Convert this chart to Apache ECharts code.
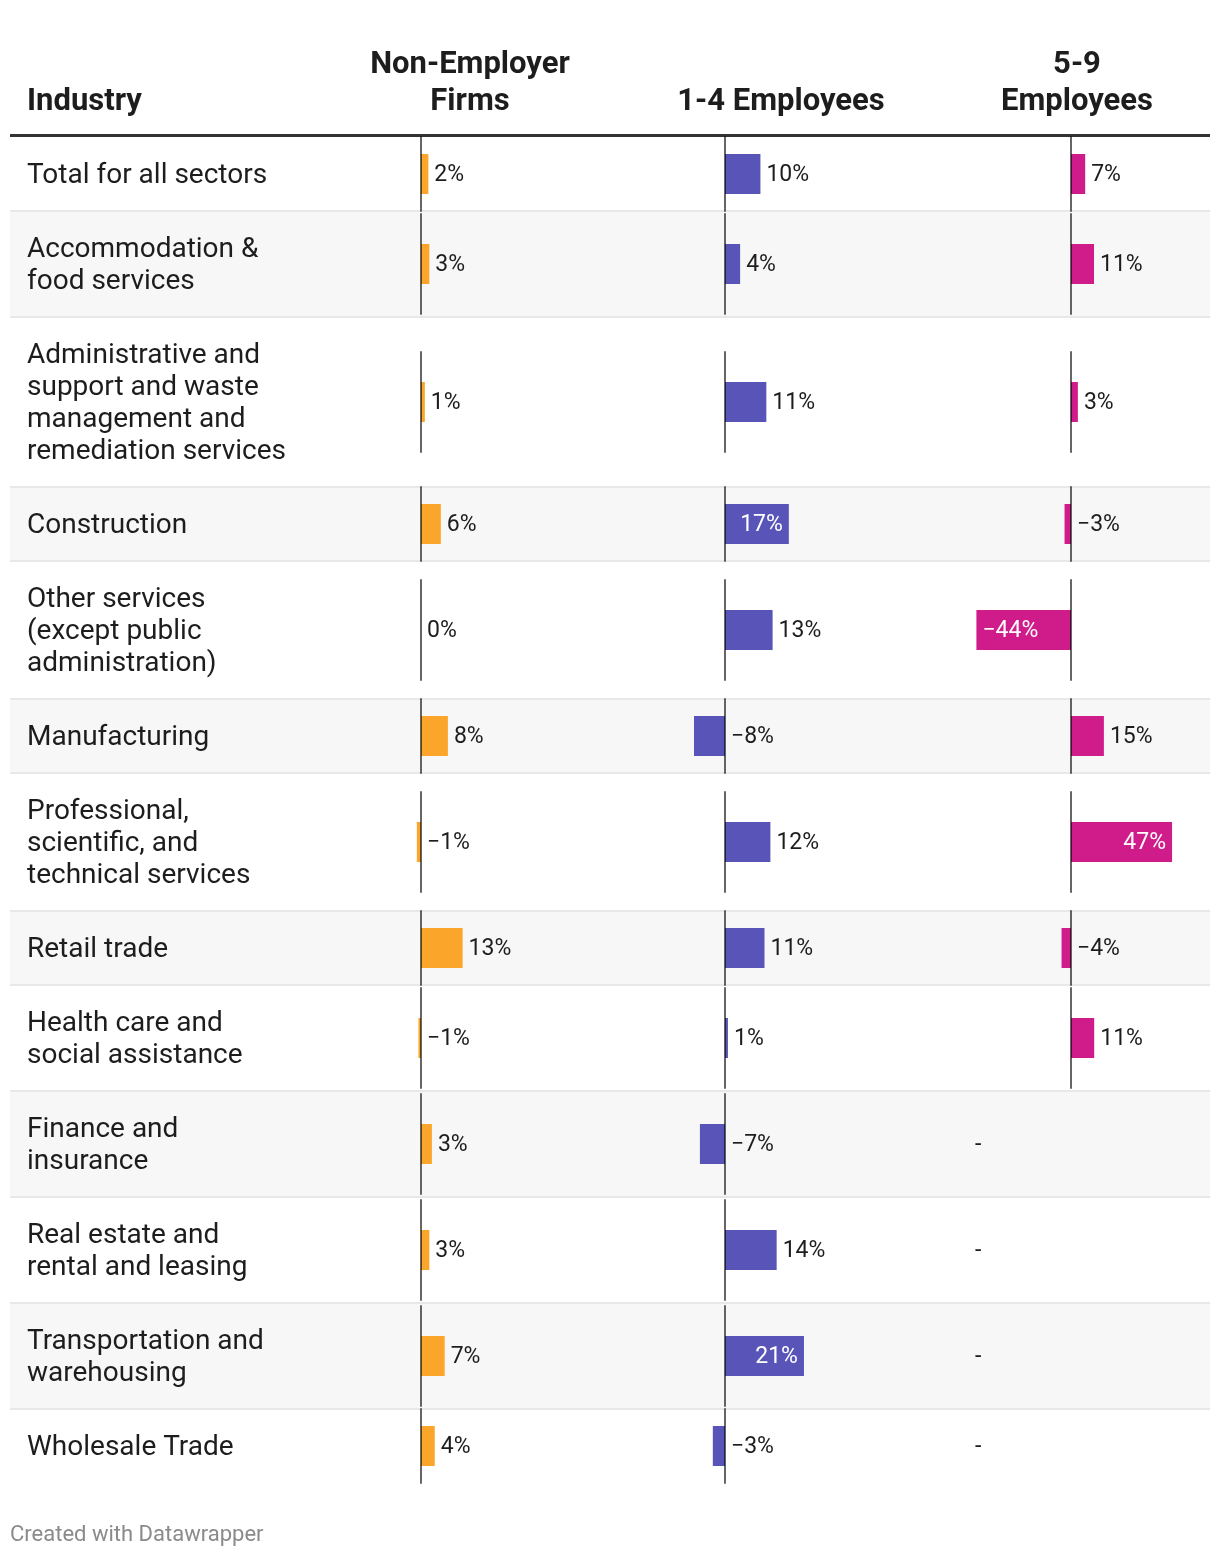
<!DOCTYPE html>
<html><head><meta charset="utf-8">
<script src="https://cdn.jsdelivr.net/npm/echarts@6/dist/echarts.min.js"></script>
<style>html,body{margin:0;padding:0;background:#fff}#c{width:1220px;height:1558px}</style>
</head><body><div id="c"></div>
<script>
// ---- data ----
const categories = [
  "Total for all sectors",
  "Accommodation &\nfood services",
  "Administrative and\nsupport and waste\nmanagement and\nremediation services",
  "Construction",
  "Other services\n(except public\nadministration)",
  "Manufacturing",
  "Professional,\nscientific, and\ntechnical services",
  "Retail trade",
  "Health care and\nsocial assistance",
  "Finance and\ninsurance",
  "Real estate and\nrental and leasing",
  "Transportation and\nwarehousing",
  "Wholesale Trade"
];
const nonEmployerFirms = [2.3, 2.6, 1.2, 6.2, 0, 8.4, -1.3, 13.0, -0.8, 3.4, 2.6, 7.4, 4.3];
const employees1to4   = [9.6, 4.1, 11.2, 17.3, 12.9, -8.4, 12.3, 10.7, 0.8, -6.8, 14.0, 21.4, -3.3];
const employees5to9   = [6.6, 10.7, 3.2, -3.0, -44.0, 15.3, 47.0, -4.4, 10.8, null, null, null, null];
const headerIndustry = "Industry";
const columnTitles = ["Non-Employer\nFirms", "1-4 Employees", "5-9\nEmployees"];
const footerText = "Created with Datawrapper";

// ---- layout / style ----
const FONT = "Roboto, 'Noto Sans', sans-serif";
const BODY_SIZE = 28, LABEL_SIZE = 23, HEAD_SIZE = 31;
const TEXT = '#1d1d1d';
const colors = ['#fba52a', '#5955b8', '#d01c8b'];
const zeroX = [421, 725, 1071];
const pxPerUnit = [3.2, 3.69, 2.15];
const axisRange = [[-5, 20], [-10, 30], [-50, 50]];
const headCenters = [470, 781, 1077];
const columns = [nonEmployerFirms, employees1to4, employees5to9];
const TABLE_TOP = 137;

const fmt = v => { const r = Math.round(v); return (r < 0 ? '\u2212' + Math.abs(r) : r) + '%'; };

const grids = [], xAxes = [], yAxes = [], series = [], graphics = [];

// header
graphics.push({type:'rect', shape:{x:10, y:134, width:1200, height:3}, style:{fill:'#333'}, z:1});
graphics.push({type:'text', style:{text:headerIndustry, x:27, y:102, textVerticalAlign:'middle', font:'bold '+HEAD_SIZE+'px '+FONT, fill:TEXT}});
columnTitles.forEach((t, c) => {
  const lines = t.split('\n');
  lines.forEach((ln, j) => {
    const y = 102 - (lines.length - 1 - j) * 37;
    graphics.push({type:'text', style:{text:ln, x:headCenters[c], y:y, textAlign:'center', textVerticalAlign:'middle', font:'bold '+HEAD_SIZE+'px '+FONT, fill:TEXT}});
  });
});

let y = TABLE_TOP;
categories.forEach((cat, i) => {
  const nLines = cat.split('\n').length;
  const h = 42 + 32 * nLines;
  const cy = y + h / 2;
  if (i % 2 === 1) graphics.push({type:'rect', shape:{x:10, y:y, width:1200, height:h}, style:{fill:'#f7f7f7'}, z:-2});
  if (i > 0) graphics.push({type:'rect', shape:{x:10, y:y - 1, width:1200, height:2}, style:{fill:'#e8e8e8'}, z:-1});
  graphics.push({type:'text', style:{text:cat, x:27, y:cy + 2, textVerticalAlign:'middle', font:BODY_SIZE+'px '+FONT, lineHeight:32, fill:TEXT}});
  const lineH = Math.min(h, 100);
  columns.forEach((arr, c) => {
    const v = arr[i];
    if (v === null || v === undefined) {
      graphics.push({type:'text', style:{text:'-', x:975, y:cy + 1, textVerticalAlign:'middle', font:LABEL_SIZE+'px '+FONT, fill:TEXT}});
      return;
    }
    const k = grids.length;
    const [mn, mx] = axisRange[c];
    grids.push({left: zeroX[c] + mn * pxPerUnit[c], width: (mx - mn) * pxPerUnit[c], top: cy - lineH / 2, height: lineH});
    xAxes.push({type:'value', gridIndex:k, min:mn, max:mx, show:false});
    yAxes.push({type:'category', gridIndex:k, data:[''], z:5,
      axisLine:{show:true, onZero:true, lineStyle:{color:'rgba(0,0,0,0.6)', width:2}},
      axisTick:{show:false}, axisLabel:{show:false}, splitLine:{show:false}});
    const inside = Math.abs(v) * pxPerUnit[c] > 55;
    series.push({type:'bar', xAxisIndex:k, yAxisIndex:k, barWidth:40, silent:true,
      itemStyle:{color:colors[c]},
      label:{show:true, position: inside ? (v > 0 ? 'insideRight' : 'insideLeft') : 'right',
        distance: 6, offset:[0, 1], color: inside ? '#fff' : TEXT,
        fontSize: LABEL_SIZE, fontFamily: FONT, formatter: p => fmt(p.value)},
      data:[v]});
  });
  y += h;
});

graphics.push({type:'text', style:{text:footerText, x:10, y:1535, textVerticalAlign:'middle', font:'22px '+FONT, fill:'#8a8a8a'}});

const chart = echarts.init(document.getElementById('c'), null, {renderer:'canvas'});
chart.setOption({
  backgroundColor:'#fff', animation:false,
  grid:grids, xAxis:xAxes, yAxis:yAxes, series:series,
  graphic:{elements:graphics}
});
</script></body></html>
